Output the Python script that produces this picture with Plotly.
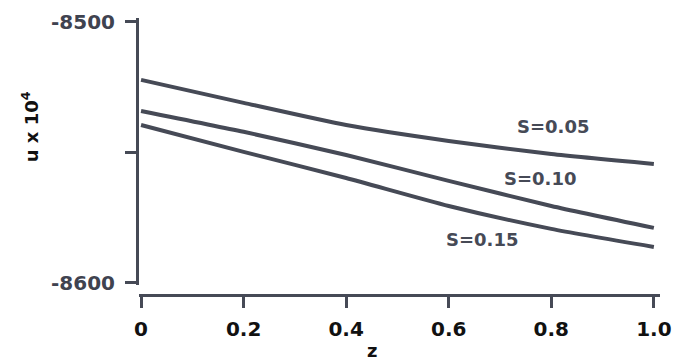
import plotly.graph_objects as go

z = [0.0, 0.2, 0.4, 0.6, 0.8, 1.0]
u_s005 = [-8522.2, -8531.0, -8539.5, -8545.6, -8550.6, -8554.4]
u_s010 = [-8534.1, -8542.1, -8551.0, -8560.9, -8570.5, -8578.9]
u_s015 = [-8539.5, -8549.8, -8559.8, -8570.5, -8579.3, -8586.2]
series_names = ["S=0.05", "S=0.10", "S=0.15"]
label_pos = [(0.803, -8540.2), (0.778, -8559.8), (0.665, -8583.5)]

x_ticks = [0, 0.2, 0.4, 0.6, 0.8, 1.0]
x_ticktext = ["0", "0.2", "0.4", "0.6", "0.8", "1.0"]
y_ticks = [-8600, -8500]
y_ticktext = ["-8600", "-8500"]
y_minor_ticks = [-8550]

LINE = "#464a56"
FONT = "DejaVu Sans"

fig = go.Figure()
for name, ys in zip(series_names, [u_s005, u_s010, u_s015]):
    fig.add_trace(go.Scatter(x=z, y=ys, mode="lines", name=name,
                             line=dict(color=LINE, width=4, shape="spline", smoothing=0.6),
                             showlegend=False))

for name, (lx, ly) in zip(series_names, label_pos):
    fig.add_annotation(x=lx, y=ly, xref="x", yref="y", text=name, showarrow=False,
                       font=dict(family=FONT, size=18, color=LINE, weight="bold"))

fig.add_annotation(x=-0.209, y=0.606, xref="paper", yref="paper", text="u x 10<sup>4</sup>",
                   textangle=-90, showarrow=False, xanchor="center", yanchor="middle",
                   font=dict(family=FONT, size=18, color="#111111", weight="bold"))
fig.add_annotation(x=0.447, y=-0.2, xref="paper", yref="paper", text="z",
                   showarrow=False, xanchor="center", yanchor="middle",
                   font=dict(family=FONT, size=18, color="#111111", weight="bold"))

fig.update_layout(
    width=691, height=353,
    margin=dict(l=131, r=39, t=10, b=66, autoexpand=False),
    paper_bgcolor="white", plot_bgcolor="white",
    xaxis=dict(range=[-0.004, 1.012], anchor="free", position=0, automargin=False,
               showgrid=False, zeroline=False, showline=True, linecolor=LINE, linewidth=3,
               ticks="outside", ticklen=11, tickwidth=3, tickcolor=LINE,
               tickvals=x_ticks, ticktext=x_ticktext, ticklabelstandoff=4,
               tickfont=dict(family=FONT, size=20, color="#111111", weight="bold")),
    yaxis=dict(range=[-8600.8, -8498.5], domain=[0.036, 1], automargin=False,
               showgrid=False, zeroline=False, showline=True, linecolor=LINE, linewidth=3,
               ticks="outside", ticklen=11, tickwidth=3, tickcolor=LINE,
               tickvals=y_ticks, ticktext=y_ticktext, ticklabelstandoff=6,
               minor=dict(tickvals=y_minor_ticks, ticks="outside", ticklen=11,
                          tickwidth=3, tickcolor=LINE, showgrid=False),
               tickfont=dict(family=FONT, size=20, color="#3f4350", weight="bold")),
)

fig.write_html("out.html")
